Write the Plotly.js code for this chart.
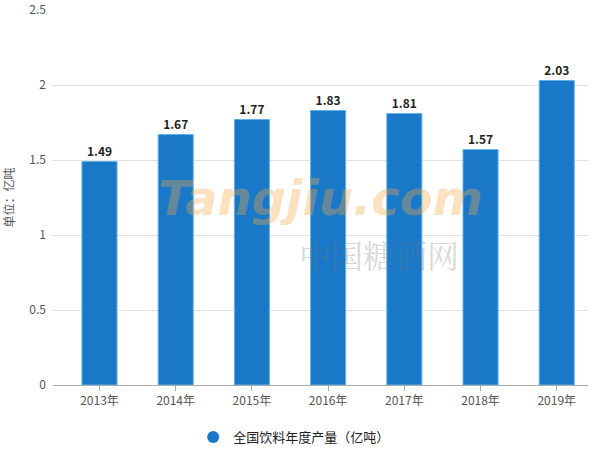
<!DOCTYPE html>
<html>
<head>
<meta charset="utf-8">
<script src="https://cdn.plot.ly/plotly-3.0.1.min.js"></script>
<style>html,body{margin:0;padding:0;background:#fff;}#chart{width:600px;height:475px;}</style>
</head>
<body>
<div id="chart"></div>
<script>
const categories = ["2013年","2014年","2015年","2016年","2017年","2018年","2019年"];
const production = [1.49, 1.67, 1.77, 1.83, 1.81, 1.57, 2.03];
const seriesName = "全国饮料年度产量（亿吨）";
const yTicks = [0, 0.5, 1, 1.5, 2, 2.5];
const yTickLabels = ["0", "0.5", "1", "1.5", "2", "2.5"];

const font = "Noto Sans CJK SC, Microsoft YaHei, sans-serif";

const bar = {
  type: "bar",
  x: categories,
  y: production,
  width: 0.46,
  marker: {color: "#1a78c8", line: {color: "#5fb2ea", width: 1}},
  text: production.map(v => "<b>" + v.toFixed(2) + "</b>"),
  textposition: "outside",
  textfont: {family: font, size: 12, color: "#222"},
  cliponaxis: false,
  showlegend: false,
  hoverinfo: "x+y"
};
const legendDummy = {
  type: "scatter",
  mode: "markers",
  x: [null], y: [null],
  name: seriesName,
  marker: {symbol: "circle", size: 12, color: "#1a78c8"},
  showlegend: true
};

const layout = {
  width: 600, height: 475,
  margin: {l: 53, r: 12, t: 10, b: 90},
  paper_bgcolor: "#fff", plot_bgcolor: "#fff",
  font: {family: font, size: 12, color: "#555"},
  xaxis: {
    type: "category",
    range: [-0.61, 6.41],
    showgrid: false,
    showline: true, linecolor: "#aaa", linewidth: 1,
    ticks: "outside", ticklen: 5, tickcolor: "#aaa",
    tickfont: {family: font, size: 12, color: "#555"}
  },
  yaxis: {
    range: [0, 2.5],
    tickvals: yTicks, ticktext: yTickLabels,
    showgrid: true, gridcolor: "#e0e0e0", gridwidth: 1,
    zeroline: false, showline: false,
    ticks: "", ticklabelstandoff: 6,
    tickfont: {family: font, size: 12, color: "#555"},
    title: {text: "单位：亿吨", font: {family: font, size: 12, color: "#555"}, standoff: 12}
  },
  showlegend: true,
  legend: {
    orientation: "h",
    x: 0.262, y: -0.139, xanchor: "left", yanchor: "middle",
    font: {family: font, size: 13, color: "#222"},
    itemwidth: 30
  },
  annotations: [
    {xref: "paper", yref: "paper", x: 0.5, y: 0.5, text: "<i><b>Tangjiu.com</b></i>",
     showarrow: false, font: {family: "DejaVu Sans, sans-serif", size: 48, color: "rgba(245,170,70,0.35)"}},
    {xref: "paper", yref: "paper", x: 0.61, y: 0.35, text: "中国糖酒网",
     showarrow: false, font: {family: "Noto Serif CJK SC, serif", size: 32, color: "rgba(120,120,120,0.3)"}}
  ]
};

Plotly.newPlot("chart", [bar, legendDummy], layout, {displayModeBar: false, staticPlot: true});
</script>
</body>
</html>
